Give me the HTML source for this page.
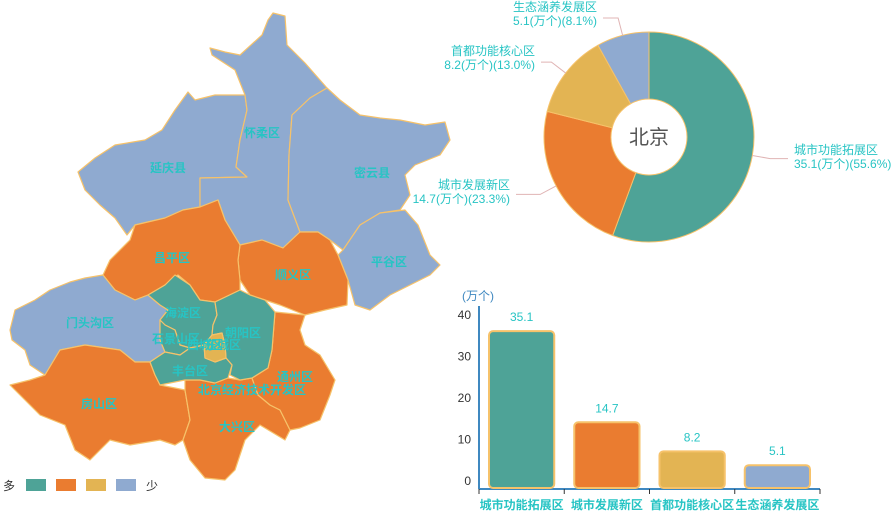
<!DOCTYPE html>
<html><head><meta charset="utf-8">
<style>
body{margin:0;background:#fff;width:896px;height:516px;overflow:hidden;font-family:"Liberation Sans","Noto Sans CJK SC",sans-serif;}
svg{position:absolute;left:0;top:0}
.ml{font-size:12px;fill:#27c4c4;font-weight:bold;text-anchor:middle}
.pl{font-size:12px;fill:#27c4c4}
</style></head><body>
<svg id="s" width="896" height="516">
<g id="map" stroke="#f6c26a" stroke-width="1.2" stroke-linejoin="round"></g>
<g id="maplabels"></g>
<g>
<text x="3" y="490" font-size="12" fill="#333">多</text>
<rect x="26" y="479" width="20" height="12" fill="#4ea397"/>
<rect x="56" y="479" width="20" height="12" fill="#ea7c30"/>
<rect x="86" y="479" width="20" height="12" fill="#e3b453"/>
<rect x="116" y="479" width="20" height="12" fill="#8faad0"/>
<text x="146" y="490" font-size="12" fill="#333">少</text>
</g>
<g id="pie"></g>
<g id="bar"></g>
</svg>
<script>
const NS='http://www.w3.org/2000/svg';
function mk(t,a,p){const e=document.createElementNS(NS,t);for(const k in a)e.setAttribute(k,a[k]);p.appendChild(e);return e;}
const C=['#4ea397','#ea7c30','#e3b453','#8faad0'];
// ---- data ----
const categories=['城市功能拓展区','城市发展新区','首都功能核心区','生态涵养发展区'];
const values=[35.1,14.7,8.2,5.1];
const percents=['55.6%','23.3%','13.0%','8.1%'];
const yTicks=[0,10,20,30,40];

// ---- map ----
const regions=[
['yanqing',3,'延庆县',168,172,[[188,92],[175,110],[162,130],[145,140],[115,145],[95,158],[78,172],[85,190],[100,205],[115,218],[127,235],[135,225],[165,218],[183,210],[200,207],[200,178],[247,177],[236,167],[240,140],[247,110],[245,95],[215,95],[195,100]]],
['huairou',3,'怀柔区',262,137,[[273,13],[285,16],[287,45],[305,63],[327,88],[310,98],[292,115],[289,155],[288,200],[300,232],[283,248],[262,240],[240,245],[225,220],[218,200],[200,207],[200,178],[247,177],[236,167],[240,140],[247,110],[245,95],[235,70],[212,55],[210,48],[225,52],[240,55],[262,35],[268,20]]],
['miyun',3,'密云县',372,177,[[327,88],[340,100],[360,115],[380,118],[400,120],[425,125],[445,122],[450,140],[440,155],[415,165],[405,175],[410,195],[400,210],[380,213],[360,225],[343,250],[330,240],[318,232],[300,232],[288,200],[289,155],[292,115],[310,98]]],
['pinggu',3,'平谷区',389,266,[[343,250],[360,225],[380,213],[405,210],[418,225],[430,255],[440,265],[430,275],[410,285],[390,295],[370,310],[355,305],[348,280],[338,255]]],
['shunyi',1,'顺义区',293,279,[[240,245],[262,240],[283,248],[300,232],[318,232],[330,240],[338,255],[348,280],[347,305],[325,310],[305,315],[280,305],[265,300],[250,295],[240,280],[238,260]]],
['changping',1,'昌平区',172,262,[[135,225],[130,240],[110,260],[103,275],[115,290],[135,300],[148,295],[165,285],[178,275],[190,285],[200,300],[215,302],[240,290],[240,280],[238,260],[240,245],[225,220],[218,200],[200,207],[183,210],[165,218]]],
['mentougou',3,'门头沟区',90,327,[[10,330],[15,310],[35,300],[50,290],[70,282],[85,278],[103,275],[115,290],[135,300],[148,295],[160,305],[168,310],[160,320],[160,340],[165,352],[150,362],[135,362],[120,350],[85,345],[60,350],[45,375],[30,365],[25,350],[12,340]]],
['fangshan',1,'房山区',99,408,[[10,385],[30,380],[45,375],[60,350],[85,345],[120,350],[135,362],[150,362],[155,375],[160,385],[185,390],[190,420],[183,440],[175,445],[160,440],[130,445],[110,440],[90,460],[75,450],[65,425],[40,415],[25,400]]],
['daxing',1,'大兴区',237,431,[[185,380],[200,380],[215,383],[228,378],[240,380],[252,378],[258,395],[270,405],[280,410],[290,430],[285,440],[260,425],[245,440],[235,470],[225,480],[205,478],[190,460],[183,440],[190,420],[185,390]]],
['tongzhou',1,'通州区',295,381,[[268,368],[272,350],[275,312],[305,315],[300,330],[305,345],[320,355],[335,380],[330,395],[320,420],[300,428],[290,430],[280,410],[270,405],[258,395],[252,378]]],
['haidian',0,'海淀区',183,317,[[148,295],[165,285],[175,275],[190,285],[200,300],[215,302],[217,315],[213,325],[212,335],[204,345],[190,348],[180,345],[175,330],[165,325],[160,320],[168,310],[160,305]]],
['chaoyang',0,'朝阳区',243,337,[[215,302],[240,290],[250,295],[265,300],[275,312],[272,350],[268,368],[252,378],[240,380],[230,375],[232,365],[226,358],[225,345],[222,333],[212,335],[213,325],[217,315]]],
['shijingshan',0,'石景山区',176,343,[[160,320],[165,325],[175,330],[180,345],[190,348],[180,355],[165,352],[160,340]]],
['fengtai',0,'丰台区',190,375,[[150,362],[165,352],[180,355],[190,348],[204,345],[205,358],[215,362],[226,358],[232,365],[228,378],[215,383],[200,380],[185,380],[170,383],[160,385],[155,375]]],
['center',2,'',0,0,[[212,335],[222,333],[225,345],[226,358],[215,362],[205,358],[204,345]]]
];
const map=document.getElementById('map'),ml=document.getElementById('maplabels');
regions.forEach(r=>{
 const p=mk('polygon',{points:r[5].map(q=>q.join(',')).join(' '),fill:C[r[1]]},map);
 
 
 if(r[2]){const t=mk('text',{x:r[3],y:r[4],class:'ml'},ml);t.textContent=r[2];
 
 }
});
[['西城区',205,349],['东城区',223,349],['北京经济技术开发区',252,394]].forEach((l,i)=>{
 const t=mk('text',{x:l[1],y:l[2],class:'ml'},ml);t.textContent=l[0];
 
 
});

// ---- pie ----
const pie=document.getElementById('pie');
const cx=649,cy=137,R=105,r0=38;
const total=values.reduce((a,b)=>a+b,0);
let a0=-Math.PI/2;
const labelPos=[[794,157,'start'],[510,192,'end'],[535,58,'end'],[597,14,'end']];
values.forEach((v,i)=>{
 const a1=a0+v/total*Math.PI*2,lg=(a1-a0)>Math.PI?1:0;
 const P=(rr,a)=>[cx+rr*Math.cos(a),cy+rr*Math.sin(a)];
 const [x1,y1]=P(R,a0),[x2,y2]=P(R,a1),[x3,y3]=P(r0,a1),[x4,y4]=P(r0,a0);
 const s=mk('path',{d:`M${x1},${y1}A${R},${R} 0 ${lg} 1 ${x2},${y2}L${x3},${y3}A${r0},${r0} 0 ${lg} 0 ${x4},${y4}Z`,fill:C[i],stroke:'#f6c26a','stroke-width':1},pie);
 
 
 const am=(a0+a1)/2,[ex,ey]=P(R,am),[fx,fy]=P(R+18,am);
 const lp=labelPos[i];
 const hx=lp[2]=='start'?lp[0]-6:lp[0]+6;
 const ln=mk('polyline',{points:`${ex},${ey} ${fx},${fy} ${hx},${fy}`,fill:'none',stroke:'#e0b4b4'},pie);
 
 
 const t1=mk('text',{x:lp[0],y:lp[1]-3,class:'pl','text-anchor':lp[2]},pie);t1.textContent=categories[i];
 
 
 const t2=mk('text',{x:lp[0],y:lp[1]+11,class:'pl','text-anchor':lp[2]},pie);t2.textContent=values[i]+'(万个)('+percents[i]+')';
 
 
 a0=a1;
});
const ct=mk('text',{x:cx,y:cy+7,'font-size':20,fill:'#555','text-anchor':'middle'},pie);ct.textContent='北京';



// ---- bar ----
const bar=document.getElementById('bar');
const X0=479,X1=820,Y0=488,k=4.47;
const y=v=>Y0-v*k;
const yl=v=>481-v*4.15;
const band=(X1-X0)/categories.length;
const ax=mk('line',{x1:X0,y1:306,x2:X0,y2:489,stroke:'#3f88c0','stroke-width':2},bar);

const xl=mk('line',{x1:X0,y1:489,x2:X1,y2:489,stroke:'#3f88c0','stroke-width':2},bar);

const yt=mk('text',{x:462,y:300,'font-size':12,fill:'#3f88c0'},bar);yt.textContent='(万个)';

yTicks.forEach(v=>{
 const t=mk('text',{x:471,y:yl(v)+4,'font-size':12,fill:'#333','text-anchor':'end'},bar);t.textContent=v;
 
 
});
categories.forEach((c,i)=>{
 const bx=X0+band*i;
 const tk=mk('line',{x1:bx,y1:489,x2:bx,y2:494,stroke:'#333'},bar);
 
 const r=mk('rect',{x:bx+10,y:y(values[i]),width:band-20,height:Y0-y(values[i]),rx:4,fill:C[i],stroke:'#f6c26a','stroke-width':2},bar);
 
 
 const vl=mk('text',{x:bx+band/2,y:y(values[i])-10,'font-size':12,fill:'#27c4c4','text-anchor':'middle'},bar);vl.textContent=values[i];
 
 
 const cl=mk('text',{x:bx+band/2,y:509,'font-size':12,'font-weight':'bold',fill:'#27c4c4','text-anchor':'middle'},bar);cl.textContent=c;
 
 
});
const tkl=mk('line',{x1:X1,y1:489,x2:X1,y2:494,stroke:'#333'},bar);

</script>
</body></html>
